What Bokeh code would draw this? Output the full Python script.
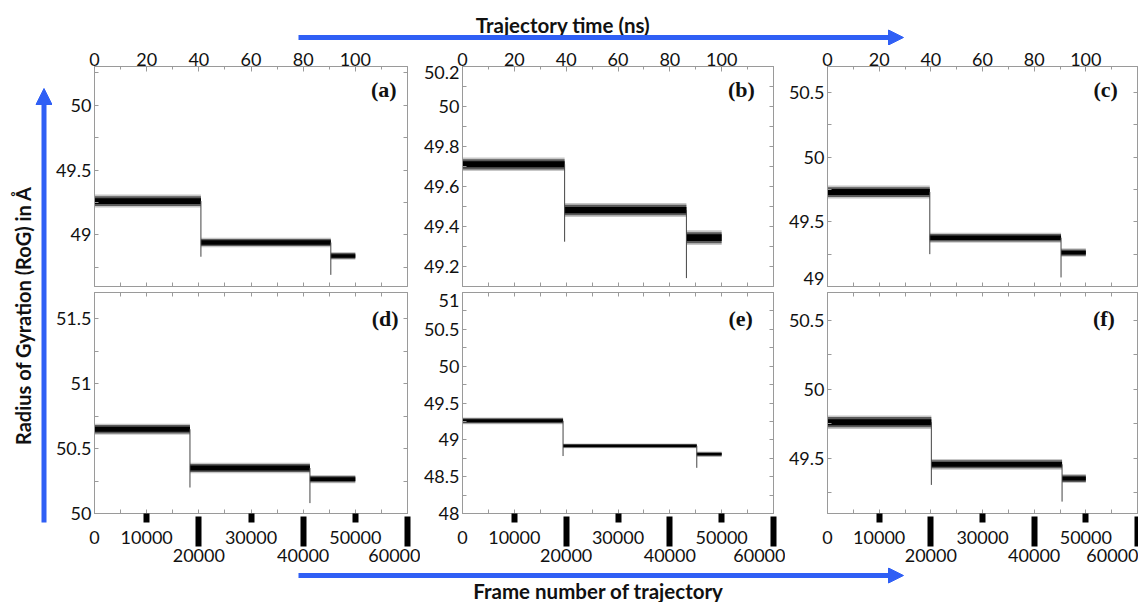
import math
from bokeh.plotting import figure
from bokeh.models import Range1d, LinearAxis, FixedTicker, Label, Arrow, NormalHead, ColumnDataSource
from bokeh.layouts import row, column
from bokeh.embed import file_html
from bokeh.resources import INLINE

# ---------------- data ----------------
frame_ticks_1 = [0, 10000, 30000, 50000]
frame_labels_1 = ["0", "10000", "30000", "50000"]
frame_ticks_2 = [20000, 40000, 60000]
frame_labels_2 = ["20000", "40000", "60000"]
time_ticks = [0, 20, 40, 60, 80, 100]
time_labels = ["0", "20", "40", "60", "80", "100"]

# plateau boundaries (frame), plateau mean RoG, noise half-width, initial value, dips at jumps
a_edges = [0, 20400, 45300, 50000]
a_level = [49.26, 48.94, 48.836]
a_spread = [0.05, 0.037, 0.03]
a_first = 49.35
a_dips = [48.83, 48.69]
a_yticks = [49, 49.5, 50]
a_ylabels = ["49", "49.5", "50"]

b_edges = [0, 19700, 43200, 50000]
b_level = [49.711, 49.482, 49.344]
b_spread = [0.034, 0.035, 0.037]
b_first = 49.76
b_dips = [49.324, 49.142]
b_yticks = [49.2, 49.4, 49.6, 49.8, 50, 50.2]
b_ylabels = ["49.2", "49.4", "49.6", "49.8", "50", "50.2"]

c_edges = [0, 19800, 45200, 50000]
c_level = [49.73, 49.377, 49.262]
c_spread = [0.05, 0.039, 0.033]
c_first = 49.99
c_dips = [49.25, 49.07]
c_yticks = [49, 49.5, 50, 50.5]
c_ylabels = ["49", "49.5", "50", "50.5"]

d_edges = [0, 18300, 41300, 50000]
d_level = [50.648, 50.35, 50.264]
d_spread = [0.043, 0.041, 0.032]
d_first = 50.91
d_dips = [50.20, 50.08]
d_yticks = [50, 50.5, 51, 51.5]
d_ylabels = ["50", "50.5", "51", "51.5"]

e_edges = [0, 19400, 45200, 50000]
e_level = [49.258, 48.918, 48.805]
e_spread = [0.046, 0.032, 0.035]
e_first = 49.55
e_dips = [48.78, 48.62]
e_yticks = [48, 48.5, 49, 49.5, 50, 50.5, 51]
e_ylabels = ["48", "48.5", "49", "49.5", "50", "50.5", "51"]

f_edges = [0, 20100, 45400, 50000]
f_level = [49.761, 49.456, 49.353]
f_spread = [0.049, 0.039, 0.033]
f_first = 49.98
f_dips = [49.307, 49.186]
f_yticks = [49.5, 50, 50.5]
f_ylabels = ["49.5", "50", "50.5"]

# ---------------- style ----------------
BLUE = "#2f5ff5"
GRAY = "#9a9a9a"
TXT = "#111111"
FONT = "Lato"
TICK_FS = "18px"

COLS = [(368, 40, 13), (365, 37, 12), (353, 36, 1)]  # width, border left, border right
ROWS = {True: (245, 21, 4), False: (277, 2, 54)}       # height, border top, border bottom


def edge_axis(ticks, tin=4):
    # ticks only (given as minor ticks so that no labels are produced)
    ax = LinearAxis(ticker=FixedTicker(ticks=[], minor_ticks=ticks))
    ax.minor_tick_in = tin
    ax.minor_tick_out = 0
    ax.minor_tick_line_color = GRAY
    ax.major_tick_line_color = None
    ax.axis_line_color = GRAY
    ax.major_label_standoff = 0
    return ax


def label_axis(ax, standoff):
    ax.major_label_text_font = FONT
    ax.major_label_text_font_size = TICK_FS
    ax.major_label_text_color = TXT
    ax.major_label_standoff = standoff


def frange(lo, hi, step):
    n = int(math.floor((hi - lo) / step + 1e-6))
    return [round(lo + i * step, 4) for i in range(n + 1)]


def panel(tag, edges, level, spread, first, dips, ylo, yhi, yticks, ylabels, ystep,
          col, top_row, lab_dx, lab_dy, nudge):
    W, bl, br = COLS[col]
    H, bt, bb = ROWS[top_row]
    fw = W - bl - br
    fh = H - bt - bb
    p = figure(width=W, height=H, x_range=Range1d(0, 60000), y_range=Range1d(ylo, yhi),
               x_axis_type=None, y_axis_type=None, toolbar_location=None,
               output_backend="svg", min_border_left=bl, min_border_right=br,
               min_border_top=bt, min_border_bottom=bb)
    p.outline_line_color = GRAY
    p.background_fill_color = "white"
    p.border_fill_color = "white"

    # noisy plateaus drawn as soft bands around each plateau level
    for k, alpha in ((1.0, 0.22), (0.75, 0.55), (0.45, 1.0)):
        src = ColumnDataSource(dict(
            left=edges[:-1], right=edges[1:],
            lo=[l - k * s for l, s in zip(level, spread)],
            hi=[l + k * s for l, s in zip(level, spread)],
        ))
        p.quad(left="left", right="right", bottom="lo", top="hi", source=src,
               fill_color="black", fill_alpha=alpha, line_color=None)
    jumps = ColumnDataSource(dict(x=edges[:3], y0=[first, level[0], level[1]],
                                  y1=[level[0], dips[0], dips[1]]))
    p.segment(x0="x", y0="y0", x1="x", y1="y1", source=jumps, line_color="#444444", line_width=1)

    # left axis: tick marks as minor ticks, labels as (unmarked) major ticks;
    # labels sitting on the frame corner are nudged inside, as in the original figure
    yminor = frange(math.ceil(ylo / ystep - 1e-6) * ystep, yhi, ystep)
    upp = (yhi - ylo) / fh
    label_pos = [v - nudge.get(v, 0) * upp for v in yticks]
    left = LinearAxis(ticker=FixedTicker(ticks=label_pos, minor_ticks=yminor),
                      major_label_overrides={float(v): s for v, s in zip(label_pos, ylabels)})
    left.major_tick_line_color = None
    left.major_tick_in = 0
    left.major_tick_out = 0
    left.minor_tick_in = 4
    left.minor_tick_out = 0
    left.minor_tick_line_color = GRAY
    left.axis_line_color = GRAY
    label_axis(left, 3)
    p.add_layout(left, "left")
    p.add_layout(edge_axis(yminor), "right")

    fminor = list(range(0, 60001, 5000))
    if top_row:
        p.extra_x_ranges = {"ns": Range1d(0, 120)}
        top = LinearAxis(x_range_name="ns",
                         ticker=FixedTicker(ticks=time_ticks, minor_ticks=list(range(0, 121, 10))),
                         major_label_overrides={float(v): s for v, s in zip(time_ticks, time_labels)})
        top.major_tick_in = 5
        top.major_tick_out = 0
        top.minor_tick_in = 3
        top.minor_tick_out = 0
        top.major_tick_line_color = GRAY
        top.minor_tick_line_color = GRAY
        top.axis_line_color = GRAY
        label_axis(top, 1)
        p.add_layout(top, "above")
        p.add_layout(edge_axis(fminor), "below")
    else:
        p.add_layout(edge_axis(fminor), "above")
        p.add_layout(edge_axis(fminor), "below")
        ax1 = LinearAxis(ticker=FixedTicker(ticks=frame_ticks_1, minor_ticks=frame_ticks_1[1:]),
                         major_label_overrides={float(v): s for v, s in zip(frame_ticks_1, frame_labels_1)})
        ax1.axis_line_color = None
        ax1.major_tick_line_color = None
        ax1.major_tick_in = 0
        ax1.major_tick_out = 0
        ax1.minor_tick_in = 0
        ax1.minor_tick_out = 9
        ax1.minor_tick_line_width = 6
        ax1.minor_tick_line_color = "black"
        label_axis(ax1, 8)
        p.add_layout(ax1, "below")
        ax2 = LinearAxis(ticker=FixedTicker(ticks=frame_ticks_2, minor_ticks=[]),
                         major_label_overrides={float(v): s for v, s in zip(frame_ticks_2, frame_labels_2)})
        ax2.axis_line_color = None
        ax2.major_tick_in = 30
        ax2.major_tick_out = 0
        ax2.major_tick_line_width = 6
        ax2.major_tick_line_color = "black"
        label_axis(ax2, 2)
        p.add_layout(ax2, "below")

    p.add_layout(Label(x=60000 * (1 - lab_dx / fw), y=yhi - (yhi - ylo) * lab_dy / fh,
                       text=tag, text_align="right", text_baseline="top",
                       text_font="Liberation Serif", text_font_style="bold",
                       text_font_size="22px", text_color="#111111"))
    return p


pa = panel("(a)", a_edges, a_level, a_spread, a_first, a_dips, 48.6, 50.3, a_yticks, a_ylabels, 0.25, 0, True, 11, 10, {})
pb = panel("(b)", b_edges, b_level, b_spread, b_first, b_dips, 49.1, 50.2, b_yticks, b_ylabels, 0.1, 1, True, 19, 10, {50.2: 6})
pc = panel("(c)", c_edges, c_level, c_spread, c_first, c_dips, 49.0, 50.7, c_yticks, c_ylabels, 0.25, 2, True, 20, 10, {49: -8})
pd_ = panel("(d)", d_edges, d_level, d_spread, d_first, d_dips, 50.0, 51.7, d_yticks, d_ylabels, 0.25, 0, False, 9, 13, {})
pe = panel("(e)", e_edges, e_level, e_spread, e_first, e_dips, 48.0, 51.0, e_yticks, e_ylabels, 0.25, 1, False, 21, 13, {51: 8})
pf = panel("(f)", f_edges, f_level, f_spread, f_first, f_dips, 49.1, 50.7, f_yticks, f_ylabels, 0.25, 2, False, 23, 13, {})


def strip(w, h, x0, x1, ytop, ybot):
    s = figure(width=w, height=h, x_range=Range1d(x0, x1), y_range=Range1d(ybot, ytop),
               x_axis_type=None, y_axis_type=None, toolbar_location=None,
               output_backend="svg", min_border=0)
    s.outline_line_color = None
    s.background_fill_color = "white"
    s.border_fill_color = "white"
    return s


top_strip = strip(1138, 45, 0, 1138, 0, 45)
top_strip.add_layout(Label(x=562.5, y=24, text="Trajectory time (ns)", text_align="center",
                           text_baseline="middle", text_font=FONT, text_font_style="bold",
                           text_font_size="20.5px", text_color=TXT))
top_strip.add_layout(Arrow(end=NormalHead(size=15, fill_color=BLUE, line_color=BLUE),
                           x_start=298, y_start=37, x_end=903, y_end=37,
                           line_color=BLUE, line_width=5))

left_strip = strip(52, 522, 0, 52, 45, 567)
left_strip.add_layout(Label(x=22.5, y=315, text="Radius of Gyration (RoG) in Å", angle=math.pi / 2,
                            text_align="center", text_baseline="middle", text_font=FONT,
                            text_font_style="bold", text_font_size="20px", text_color=TXT))
left_strip.add_layout(Arrow(end=NormalHead(size=16, fill_color=BLUE, line_color=BLUE),
                            x_start=43.5, y_start=522, x_end=43.5, y_end=88,
                            line_color=BLUE, line_width=5))

bottom_strip = strip(1138, 35, 0, 1138, 567, 602)
bottom_strip.add_layout(Arrow(end=NormalHead(size=15, fill_color=BLUE, line_color=BLUE),
                              x_start=298, y_start=575, x_end=903, y_end=575,
                              line_color=BLUE, line_width=5))
bottom_strip.add_layout(Label(x=598, y=590, text="Frame number of trajectory", text_align="center",
                              text_baseline="middle", text_font=FONT, text_font_style="bold",
                              text_font_size="20.5px", text_color=TXT))

layout = column(top_strip,
                row(left_strip, column(row(pa, pb, pc), row(pd_, pe, pf))),
                bottom_strip)

open("out.html", "w").write(file_html(layout, INLINE))
